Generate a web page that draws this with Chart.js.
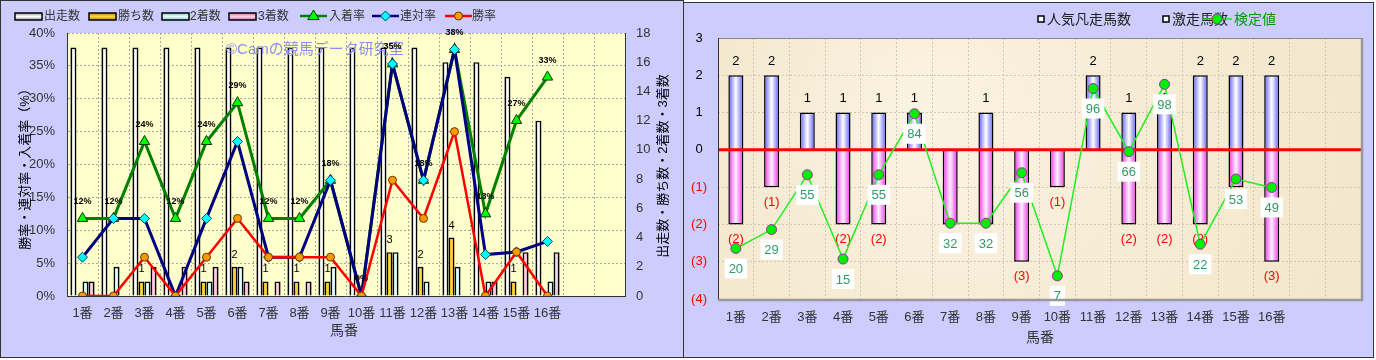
<!DOCTYPE html>
<html>
<head>
<meta charset="utf-8">
<script src="https://cdn.jsdelivr.net/npm/chart.js@4.4.0/dist/chart.umd.min.js"></script>
<style>
  body { margin: 0; background: #fff; }
  .panel { position: absolute; background: #ccccff; box-sizing: border-box; border: 1px solid #333; }
  #leftPanel { left: 0; top: 0; width: 684px; height: 358px; }
  #rightPanel { left: 683px; top: 2px; width: 691px; height: 356px; }
  canvas { position: absolute; top: 0; }
</style>
</head>
<body>
<div class="panel" id="leftPanel"></div>
<div class="panel" id="rightPanel"></div>
<canvas id="leftChart" width="683" height="358" style="left:0"></canvas>
<canvas id="rightChart" width="691" height="358" style="left:683px"></canvas>
<script>
// --- data: left chart (馬番別成績) ---
const horses = ['1番','2番','3番','4番','5番','6番','7番','8番','9番','10番','11番','12番','13番','14番','15番','16番','',''];
const starts  = [17,17,17,17,17,17,17,17,17,17,17,17,16,16,15,12];
const wins    = [0,0,1,0,1,2,1,1,1,0,3,2,4,0,1,0];
const seconds = [1,2,1,0,1,2,0,0,2,0,3,1,2,1,0,1];
const thirds  = [1,0,2,2,2,1,1,1,0,0,0,0,0,1,3,3];
const placeRate  = [11.8,11.8,23.5,11.8,23.5,29.4,11.8,11.8,17.6,0,35.3,17.6,37.5,12.5,26.7,33.3];
const rentaiRate = [5.9,11.8,11.8,0,11.8,23.5,5.9,5.9,17.6,0,35.3,17.6,37.5,6.3,6.7,8.3];
const winRate    = [0,0,5.9,0,5.9,11.8,5.9,5.9,5.9,0,17.6,11.8,25,0,6.7,0];

// --- data: right chart ---
const slumpCount = [2,2,1,1,1,1,0,1,0,0,2,1,1,2,2,2];          // 人気凡走馬数
const surgeCount = [-2,-1,0,-2,-2,0,-2,-2,-3,-1,0,-2,-2,-2,-1,-3]; // 激走馬数
const testValue  = [20,29,55,15,55,84,32,32,56,7,96,66,98,22,53,49]; // 検定値

const FONT = '"Liberation Sans", "Noto Sans CJK JP", sans-serif';
Chart.defaults.font.family = FONT;

const CAT_PCT = 0.78;
const R_BAR_PCT = 0.42;

function hGrad(ctx, x0, x1, edge, mid) {
  const g = ctx.createLinearGradient(x0, 0, x1, 0);
  g.addColorStop(0, edge);
  g.addColorStop(0.5, mid);
  g.addColorStop(1, edge);
  return g;
}

function leftBarFill(k, edge, mid) {
  return (c) => {
    if (c.type !== 'data') return mid;
    const x = c.chart.scales.x;
    if (!x || !x.width) return mid;
    const group = x.width / horses.length * CAT_PCT;
    const w = group / 4;
    const left = x.getPixelForValue(c.dataIndex) - group / 2 + k * w;
    return hGrad(c.chart.ctx, left, left + w, edge, mid);
  };
}

function rightBarFill(edge, mid) {
  return (c) => {
    if (c.type !== 'data') return mid;
    const x = c.chart.scales.x;
    if (!x || !x.width) return mid;
    const w = x.width / horses.length * R_BAR_PCT;
    const cx = x.getPixelForValue(c.dataIndex);
    return hGrad(c.chart.ctx, cx - w / 2, cx + w / 2, edge, mid);
  };
}

function marker(ctx, style, x, y, r, fill, stroke) {
  ctx.beginPath();
  if (style === 'triangle') {
    ctx.moveTo(x, y - r);
    ctx.lineTo(x + r * 0.95, y + r * 0.6);
    ctx.lineTo(x - r * 0.95, y + r * 0.6);
    ctx.closePath();
  } else if (style === 'diamond') {
    ctx.moveTo(x, y - r); ctx.lineTo(x + r, y); ctx.lineTo(x, y + r); ctx.lineTo(x - r, y);
    ctx.closePath();
  } else {
    ctx.arc(x, y, r, 0, Math.PI * 2);
  }
  ctx.fillStyle = fill; ctx.fill();
  ctx.strokeStyle = stroke; ctx.lineWidth = 1; ctx.stroke();
}

function vText(ctx, text, x, y) {
  ctx.save();
  ctx.translate(x, y);
  ctx.rotate(-Math.PI / 2);
  ctx.textAlign = 'center';
  ctx.textBaseline = 'middle';
  ctx.fillText(text, 0, 0);
  ctx.restore();
}

// ---------- left chart ----------
const leftExtras = {
  id: 'leftExtras',
  beforeDraw(chart) {
    const {ctx, chartArea: a} = chart;
    ctx.save();
    ctx.fillStyle = '#ffffcc';
    ctx.fillRect(a.left, a.top, a.right - a.left, a.bottom - a.top);
    ctx.restore();
  },
  afterDatasetsDraw(chart) {
    const ctx = chart.ctx;
    ctx.save();
    // watermark
    ctx.font = '15px ' + FONT;
    ctx.fillStyle = '#8c8cf0';
    ctx.textAlign = 'left';
    ctx.textBaseline = 'middle';
    ctx.fillText('©Camの競馬データ研究室', 226, 50);
    // percent labels on 入着率
    ctx.fillStyle = '#000';
    ctx.textAlign = 'center';
    ctx.font = 'bold 9px "Liberation Sans", sans-serif';
    chart.getDatasetMeta(2).data.forEach((pt, i) => {
      ctx.fillText(Math.round(placeRate[i]) + '%', pt.x, pt.y - 17);
    });
    // win counts
    ctx.font = '11px "Liberation Sans", sans-serif';
    chart.getDatasetMeta(4).data.forEach((bar, i) => {
      if (wins[i] > 0) ctx.fillText(String(wins[i]), bar.x, bar.y - 12);
    });
    ctx.restore();
  },
  afterDraw(chart) {
    const ctx = chart.ctx;
    ctx.save();
    // legend
    ctx.font = '12px ' + FONT;
    ctx.fillStyle = '#333';
    ctx.textBaseline = 'middle';
    ctx.textAlign = 'left';
    const ly = 16;
    const barKeys = [
      ['出走数', 15, 44, '#9a9a9a', '#ffffff'],
      ['勝ち数', 89, 118, '#c08a00', '#ffd633'],
      ['2着数', 162, 190, '#80c8c8', '#e8ffff'],
      ['3着数', 229, 258, '#d870a8', '#ffd0e8']
    ];
    barKeys.forEach(([t, bx, tx, edge, mid]) => {
      const g = ctx.createLinearGradient(0, ly - 3, 0, ly + 4);
      g.addColorStop(0, edge); g.addColorStop(0.5, mid); g.addColorStop(1, edge);
      ctx.fillStyle = g;
      ctx.fillRect(bx, ly - 3, 27, 7);
      ctx.strokeStyle = '#000'; ctx.lineWidth = 1.5;
      ctx.strokeRect(bx, ly - 3, 27, 7);
      ctx.fillStyle = '#333';
      ctx.fillText(t, tx, ly + 1);
    });
    const lineKeys = [
      ['入着率', 300, 329, '#008000', 'triangle', '#00ff00', '#003300', 6],
      ['連対率', 372, 400, '#000080', 'diamond', '#00ffff', '#004060', 5],
      ['勝率', 445, 472, '#ff0000', 'circle', '#ff9900', '#663300', 4]
    ];
    lineKeys.forEach(([t, lx, tx, col, st, fill, stroke, r]) => {
      ctx.strokeStyle = col; ctx.lineWidth = 2.5;
      ctx.beginPath(); ctx.moveTo(lx, ly); ctx.lineTo(lx + 27, ly); ctx.stroke();
      marker(ctx, st, lx + 13.5, ly, r, fill, stroke);
      ctx.fillStyle = '#333';
      ctx.fillText(t, tx, ly + 1);
    });
    // axis titles
    ctx.fillStyle = '#000';
    ctx.font = '13px ' + FONT;
    vText(ctx, '勝率・連対率・入着率（%）', 25, 166);
    vText(ctx, '出走数・勝ち数・2着数・3着数', 663, 166);
    ctx.fillStyle = '#333';
    ctx.font = '14px ' + FONT;
    ctx.textAlign = 'center';
    ctx.fillText('馬番', 344, 331);
    ctx.restore();
  }
};

new Chart(document.getElementById('leftChart'), {
  type: 'bar',
  data: {
    labels: horses,
    datasets: [
      { type: 'line', label: '勝率', data: winRate, yAxisID: 'y', order: 0,
        borderColor: '#ff0000', borderWidth: 2.5, tension: 0,
        pointStyle: 'circle', pointRadius: 4, pointBackgroundColor: '#ff9900',
        pointBorderColor: '#663300', pointBorderWidth: 1 },
      { type: 'line', label: '連対率', data: rentaiRate, yAxisID: 'y', order: 1,
        borderColor: '#000080', borderWidth: 3, tension: 0,
        pointStyle: 'rectRot', pointRadius: 5, pointBackgroundColor: '#00ffff',
        pointBorderColor: '#004060', pointBorderWidth: 1 },
      { type: 'line', label: '入着率', data: placeRate, yAxisID: 'y', order: 2,
        borderColor: '#008000', borderWidth: 3, tension: 0,
        pointStyle: 'triangle', pointRadius: 6, pointBackgroundColor: '#00ff00',
        pointBorderColor: '#003300', pointBorderWidth: 1 },
      { label: '出走数', data: starts, yAxisID: 'y1', order: 3,
        backgroundColor: leftBarFill(0, '#9a9a9a', '#ffffff'), borderColor: '#000', borderWidth: 1.6 },
      { label: '勝ち数', data: wins, yAxisID: 'y1', order: 3,
        backgroundColor: leftBarFill(1, '#c08a00', '#ffd633'), borderColor: '#000', borderWidth: 1.6 },
      { label: '2着数', data: seconds, yAxisID: 'y1', order: 3,
        backgroundColor: leftBarFill(2, '#80c8c8', '#e8ffff'), borderColor: '#000', borderWidth: 1.6 },
      { label: '3着数', data: thirds, yAxisID: 'y1', order: 3,
        backgroundColor: leftBarFill(3, '#d870a8', '#ffd0e8'), borderColor: '#000', borderWidth: 1.6 }
    ]
  },
  options: {
    responsive: false,
    animation: false,
    layout: { padding: { top: 33, left: 0, right: 0, bottom: 0 } },
    plugins: { legend: { display: false }, tooltip: { enabled: false } },
    datasets: { bar: { categoryPercentage: CAT_PCT, barPercentage: 1 } },
    scales: {
      x: {
        grid: { color: '#a8a8a8', drawTicks: false },
        border: { color: '#333', dash: [2, 2] },
        ticks: { padding: 10, color: '#333', autoSkip: false, maxRotation: 0, font: { size: 13 } },
        afterFit: s => { s.height = 62; }
      },
      y: {
        position: 'left', min: 0, max: 40,
        grid: { color: '#a8a8a8', drawTicks: false },
        border: { color: '#333', dash: [2, 2] },
        ticks: { stepSize: 5, padding: 12, color: '#333', font: { size: 13 }, callback: v => v + '%' },
        afterFit: s => { s.width = 67; }
      },
      y1: {
        position: 'right', min: 0, max: 18,
        grid: { drawOnChartArea: false, drawTicks: false },
        border: { color: '#333' },
        ticks: { stepSize: 2, padding: 11, color: '#333', font: { size: 13 } },
        afterFit: s => { s.width = 58; }
      }
    }
  },
  plugins: [leftExtras]
});

// ---------- right chart ----------
const rightExtras = {
  id: 'rightExtras',
  beforeDraw(chart) {
    const {ctx, chartArea: a} = chart;
    ctx.save();
    ctx.fillStyle = '#f5e9d1';
    ctx.fillRect(a.left, a.top, a.right - a.left, a.bottom - a.top);
    const g = ctx.createRadialGradient(a.left + 200, a.top + 80, 10, a.left + 300, a.top + 120, 380);
    g.addColorStop(0, 'rgba(255,250,238,0.6)');
    g.addColorStop(1, 'rgba(240,226,196,0.4)');
    ctx.fillStyle = g;
    ctx.fillRect(a.left, a.top, a.right - a.left, a.bottom - a.top);
    ctx.restore();
  },
  afterDatasetDraw(chart, args) {
    if (args.index !== 2) return;
    const ctx = chart.ctx;
    const a = chart.chartArea;
    const y0 = chart.scales.y.getPixelForValue(0);
    ctx.save();
    ctx.strokeStyle = '#ff0000';
    ctx.lineWidth = 3;
    ctx.beginPath(); ctx.moveTo(a.left, y0); ctx.lineTo(a.right, y0); ctx.stroke();
    // bar labels
    ctx.font = '13px ' + FONT;
    ctx.textAlign = 'center';
    ctx.textBaseline = 'middle';
    ctx.fillStyle = '#000';
    chart.getDatasetMeta(1).data.forEach((bar, i) => {
      if (slumpCount[i] > 0) ctx.fillText(String(slumpCount[i]), bar.x, bar.y - 14);
    });
    ctx.fillStyle = '#ff0000';
    chart.getDatasetMeta(2).data.forEach((bar, i) => {
      if (surgeCount[i] < 0) ctx.fillText('(' + (-surgeCount[i]) + ')', bar.x, bar.y + 15);
    });
    ctx.restore();
  },
  afterDatasetsDraw(chart) {
    const ctx = chart.ctx;
    ctx.save();
    ctx.font = '13px ' + FONT;
    ctx.textAlign = 'center';
    ctx.textBaseline = 'middle';
    chart.getDatasetMeta(0).data.forEach((pt, i) => {
      const t = String(testValue[i]);
      const w = ctx.measureText(t).width + 8;
      const cy = pt.y + 20;
      ctx.fillStyle = '#ffffff';
      ctx.fillRect(pt.x - w / 2, cy - 10, w, 20);
      ctx.fillStyle = '#339966';
      ctx.fillText(t, pt.x, cy + 1);
    });
    ctx.restore();
  },
  afterDraw(chart) {
    const ctx = chart.ctx;
    const a = chart.chartArea;
    ctx.save();
    // plot border with shadow
    ctx.strokeStyle = '#888';
    ctx.lineWidth = 1;
    ctx.beginPath();
    ctx.moveTo(a.left, a.top + 0.5); ctx.lineTo(a.right, a.top + 0.5);
    ctx.stroke();
    ctx.strokeStyle = '#999';
    ctx.lineWidth = 2.5;
    ctx.beginPath();
    ctx.moveTo(a.right + 1, a.top); ctx.lineTo(a.right + 1, a.bottom + 1); ctx.lineTo(a.left, a.bottom + 1);
    ctx.stroke();
    ctx.strokeStyle = '#333';
    ctx.lineWidth = 1;
    ctx.beginPath(); ctx.moveTo(a.left + 0.5, a.top); ctx.lineTo(a.left + 0.5, a.bottom); ctx.stroke();
    // legend
    const ly = 19;
    ctx.font = '14px ' + FONT;
    ctx.textAlign = 'left';
    ctx.textBaseline = 'middle';
    [[355, 364, '人気凡走馬数'], [480, 489, '激走馬数']].forEach(([sx, tx, t]) => {
      ctx.fillStyle = '#fff';
      ctx.fillRect(sx, ly - 3, 6, 6);
      ctx.strokeStyle = '#000'; ctx.lineWidth = 1.5;
      ctx.strokeRect(sx, ly - 3, 6, 6);
      ctx.fillStyle = '#222';
      ctx.fillText(t, tx, ly + 1);
    });
    ctx.strokeStyle = '#22dd22'; ctx.lineWidth = 1.5;
    ctx.beginPath(); ctx.moveTo(520, ly); ctx.lineTo(549, ly); ctx.stroke();
    marker(ctx, 'circle', 534, ly, 5, '#00ee00', '#993399');
    ctx.fillStyle = '#009900';
    ctx.fillText('検定値', 551, ly + 1);
    // x title
    ctx.fillStyle = '#333';
    ctx.textAlign = 'center';
    ctx.fillText('馬番', 357, 338);
    ctx.restore();
  }
};

new Chart(document.getElementById('rightChart'), {
  type: 'bar',
  data: {
    labels: horses,
    datasets: [
      { type: 'line', label: '検定値', data: testValue, yAxisID: 'y2', order: 0,
        borderColor: '#22ee22', borderWidth: 1.5, tension: 0,
        pointRadius: 5, pointBackgroundColor: '#00ee00', pointBorderColor: '#993399', pointBorderWidth: 1 },
      { label: '人気凡走馬数', data: slumpCount, yAxisID: 'y', order: 2, grouped: false,
        backgroundColor: rightBarFill('#5a5aff', '#ffffff'), borderColor: '#000', borderWidth: 1.5 },
      { label: '激走馬数', data: surgeCount, yAxisID: 'y', order: 1, grouped: false,
        backgroundColor: rightBarFill('#e830e8', '#fff0ff'), borderColor: '#000', borderWidth: 1.5 }
    ]
  },
  options: {
    responsive: false,
    animation: false,
    layout: { padding: { top: 38, left: 0, right: 13, bottom: 0 } },
    plugins: { legend: { display: false }, tooltip: { enabled: false } },
    datasets: { bar: { categoryPercentage: 1, barPercentage: R_BAR_PCT } },
    scales: {
      x: {
        grid: { color: '#cfc6b4', drawTicks: false },
        border: { display: false, dash: [2, 2] },
        ticks: { padding: 11, color: '#333', autoSkip: false, maxRotation: 0, font: { size: 13 } },
        afterFit: s => { s.height = 59; }
      },
      y: {
        position: 'left', min: -4, max: 3,
        grid: { color: '#cfc6b4', drawTicks: false },
        border: { display: false, dash: [2, 2] },
        ticks: {
          stepSize: 1, padding: 11, crossAlign: 'center', font: { size: 13 },
          color: c => c.tick && c.tick.value < 0 ? '#ff0000' : '#000',
          callback: v => v < 0 ? '(' + (-v) + ')' : String(v)
        },
        afterFit: s => { s.width = 35; }
      },
      y2: { display: false, min: -4, max: 120 }
    }
  },
  plugins: [rightExtras]
});
</script>
</body>
</html>
